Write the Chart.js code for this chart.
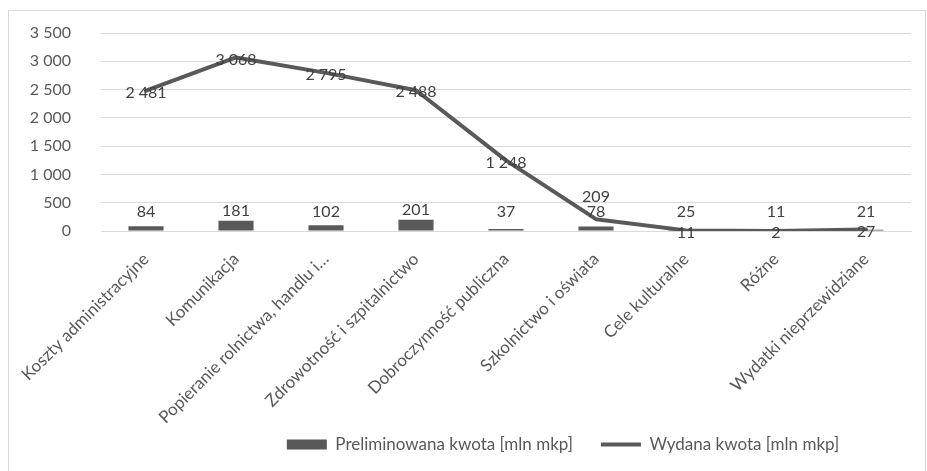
<!DOCTYPE html>
<html lang="pl">
<head>
<meta charset="utf-8">
<title>Preliminowana i wydana kwota</title>
<script src="https://cdn.jsdelivr.net/npm/chart.js@4.4.1/dist/chart.umd.min.js"></script>
<style>
  html, body { margin: 0; padding: 0; background: #fff; }
  #box {
    position: absolute;
    left: 8px;
    top: 10px;
    width: 918px;
    height: 462px;
    border: 1px solid #d9d9d9;
    box-sizing: border-box;
  }
</style>
</head>
<body>
<div id="box"><canvas id="chart"></canvas></div>
<script>
const categories = [
  "Koszty administracyjne",
  "Komunikacja",
  "Popieranie rolnictwa, handlu i…",
  "Zdrowotność i szpitalnictwo",
  "Dobroczynność publiczna",
  "Szkolnictwo i oświata",
  "Cele kulturalne",
  "Różne",
  "Wydatki nieprzewidziane",
];
const planned = [84, 181, 102, 201, 37, 78, 25, 11, 21];
const spent = [2481, 3068, 2795, 2488, 1248, 209, 11, 2, 27];
const yTicks = [0, 500, 1000, 1500, 2000, 2500, 3000, 3500];

const ink = "#595959";
const labelInk = "#404040";
const gridColor = "#d9d9d9";

Chart.defaults.font.family = "Lato";
Chart.defaults.font.size = 16;
Chart.defaults.color = ink;

// 3500 -> "3 500"
function fmt(v) {
  return String(v).replace(/\B(?=(\d{3})+(?!\d))/g, " ");
}

// value labels over bars and line points
const valueLabels = {
  id: "valueLabels",
  afterDatasetsDraw(chart) {
    const ctx = chart.ctx;
    const zeroY = chart.scales.y.getPixelForValue(0);
    const bars = chart.getDatasetMeta(0).data;
    const points = chart.getDatasetMeta(1).data;
    ctx.save();
    ctx.font = "16px Lato";
    ctx.fillStyle = labelInk;
    ctx.textAlign = "center";
    ctx.textBaseline = "middle";
    const barLabelY = [];
    bars.forEach((bar, i) => {
      const y = Math.min(bar.y - 10, zeroY - 19);
      barLabelY.push(y);
      ctx.fillText(fmt(planned[i]), bar.x, y);
    });
    points.forEach((pt, i) => {
      let y = pt.y + 2;
      // lift the label when it would sit on the bar label
      if (Math.abs(pt.y - barLabelY[i]) < 12) y = pt.y - 22;
      ctx.fillText(fmt(spent[i]), pt.x, y);
    });
    ctx.restore();
  },
};

// legend sits right of centre; long category names may run under it
const layoutTweak = {
  id: "layoutTweak",
  afterLayout(chart) {
    const lg = chart.legend;
    lg.left += 103;
    lg.right += 103;
    lg.top -= 8;
    lg.bottom -= 8;
    chart.scales.x.bottom = chart.height;
  },
};

new Chart(document.getElementById("chart"), {
  data: {
    labels: categories,
    datasets: [
      {
        type: "bar",
        label: "Preliminowana kwota [mln mkp]",
        data: planned,
        backgroundColor: ink,
        borderWidth: 0,
        barPercentage: 0.39,
        categoryPercentage: 1,
        pointStyle: "rect",
        order: 1,
      },
      {
        type: "line",
        label: "Wydana kwota [mln mkp]",
        data: spent,
        borderColor: ink,
        backgroundColor: ink,
        borderWidth: 4,
        borderJoinStyle: "round",
        borderCapStyle: "round",
        pointRadius: 0,
        tension: 0,
        pointStyle: "line",
        order: 0,
      },
    ],
  },
  options: {
    responsive: true,
    maintainAspectRatio: false,
    animation: false,
    layout: { padding: { top: 22, right: 14, bottom: 0, left: 0 } },
    scales: {
      x: {
        grid: { display: false },
        border: { color: gridColor },
        ticks: {
          autoSkip: false,
          minRotation: 45,
          maxRotation: 45,
          padding: 10,
          color: ink,
          font: { size: 17 },
        },
        afterFit: (scale) => {
          scale.height = 185;
        },
      },
      y: {
        min: 0,
        max: 3500,
        afterBuildTicks: (scale) => {
          scale.ticks = yTicks.map((v) => ({ value: v }));
        },
        grid: { color: gridColor, drawTicks: false },
        border: { display: false },
        ticks: {
          padding: 30,
          color: ink,
          callback: (v) => fmt(v),
        },
        afterFit: (scale) => {
          scale.width = 92;
          // keep the wide label gap from pushing the plot down
          scale.paddingTop = 10;
          scale.paddingBottom = 10;
        },
      },
    },
    plugins: {
      tooltip: { enabled: false },
      legend: {
        position: "bottom",
        labels: {
          usePointStyle: true,
          pointStyleWidth: 40,
          boxHeight: 10,
          padding: 28,
          color: ink,
          font: { size: 17 },
          sort: (a, b) => a.datasetIndex - b.datasetIndex,
        },
      },
    },
  },
  plugins: [valueLabels, layoutTweak],
});
</script>
</body>
</html>
